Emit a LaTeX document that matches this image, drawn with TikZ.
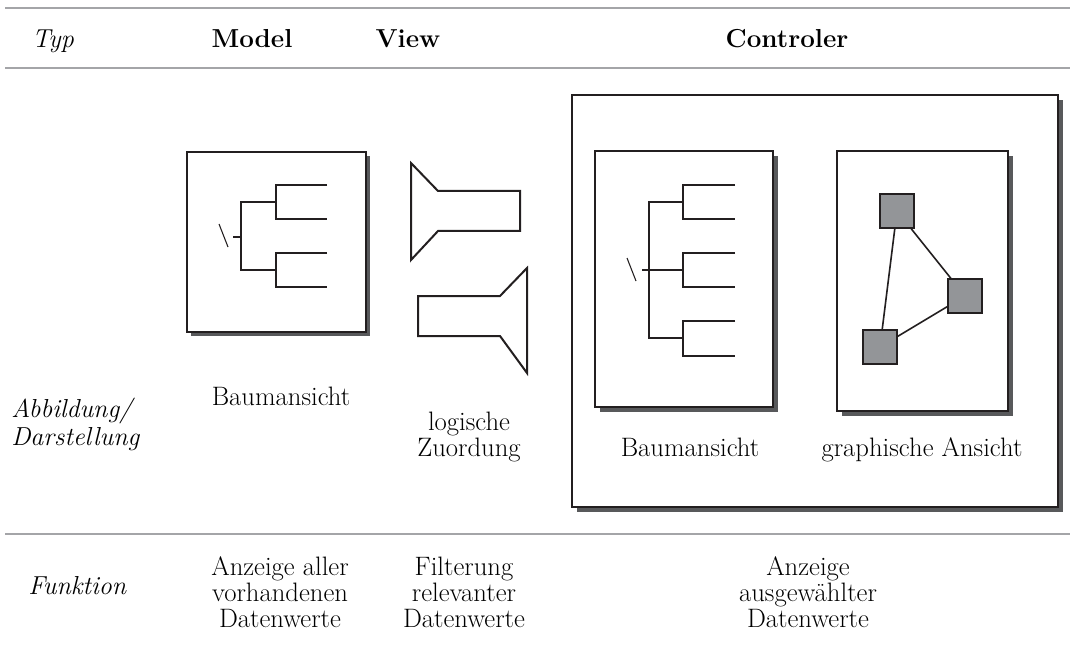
\documentclass[tikz,border=0pt]{standalone}
\usetikzlibrary{calc}
\definecolor{ink}{HTML}{231F20}
\definecolor{shade}{HTML}{58595B}
\definecolor{rulegray}{HTML}{A4A5A8}
\definecolor{sqfill}{HTML}{939598}
\begin{document}
\begin{tikzpicture}[x=0.75pt,y=-0.75pt,
  rulel/.style={rulegray,line width=2.2pt},
  frame/.style={draw=ink,fill=white,line width=1.5pt},
  shadowfill/.style={fill=shade},
  treeline/.style={ink,line width=1.4pt},
  stub/.style={ink,line width=2.2pt},
  slash/.style={ink,line width=0.8pt},
  viewshape/.style={draw=ink,line width=1.5pt,line join=miter},
  sq/.style={draw=ink,fill=sqfill,line width=1.5pt,minimum size=25pt,inner sep=0pt},
  edge/.style={ink,line width=1.2pt},
  txt/.style={font=\fontsize{20}{19.5}\selectfont,inner sep=0pt,align=center},
  head/.style={font=\fontsize{19.5}{21}\selectfont\bfseries,inner sep=0pt},
  ital/.style={font=\fontsize{19.5}{21}\selectfont\itshape,inner sep=0pt,align=left}
]
\useasboundingbox (0,0) rectangle (1070,645);

% rules
\draw[rulel] (5,8) -- (1070,8);
\draw[rulel] (5,68) -- (1070,68);
\draw[rulel] (5,534) -- (1070,534);

% header
\node[ital,anchor=base] (typ) at (53,48) {Typ};
\node[head,anchor=base] (model) at (252,48) {Model};
\node[head,anchor=base] (view) at (408,48) {View};
\node[head,anchor=base] (ctrl) at (787,48) {Controler};

% row labels
\node[ital,anchor=base west] (abb) at (11,445) {Abbildung/\\Darstellung};
\node[ital,anchor=base west] (fkt) at (28,594) {Funktion};

% Model box
\fill[shadowfill] (191,156) rectangle (370,336);
\draw[frame] (187,152) rectangle (366,332);
\draw[stub] (233,237) -- (242,237);
\draw[treeline] (276,202) -- (241,202) -- (241,270) -- (276,270);
\draw[treeline] (327,185) -- (276,185) -- (276,219) -- (327,219);
\draw[treeline] (327,253) -- (276,253) -- (276,287) -- (327,287);
\draw[slash] (219,224) -- (228,247);
\node[txt,anchor=base] (mlabel) at (281,405) {Baumansicht};

% View shapes
\draw[viewshape] (411,163) -- (438,191) -- (520,191) -- (520,231) -- (438,231) -- (411,260) -- cycle;
\draw[viewshape] (527,268) -- (500,296) -- (418,296) -- (418,336) -- (500,336) -- (527,373) -- cycle;
\node[txt,anchor=base] (vlabel) at (469,456) {logische\\Zuordung};

% Controller outer box
\fill[shadowfill] (577,100) rectangle (1063,512);
\draw[frame] (572,95) rectangle (1058,507);

% Controller tree box
\fill[shadowfill] (600,156) rectangle (778,412);
\draw[frame] (595,151) rectangle (773,407);
\draw[stub] (642,270) -- (650,270);
\draw[treeline] (683,202) -- (649,202) -- (649,338) -- (683,338);
\draw[treeline] (649,270) -- (683,270);
\draw[treeline] (735,185) -- (683,185) -- (683,219) -- (735,219);
\draw[treeline] (735,253) -- (683,253) -- (683,287) -- (735,287);
\draw[treeline] (735,321) -- (683,321) -- (683,356) -- (735,356);
\draw[slash] (627,258) -- (636,281);

% Controller graph box
\fill[shadowfill] (842,156) rectangle (1013,416);
\draw[frame] (837,151) rectangle (1008,411);
\node[sq] (g1) at (897,211) {};
\node[sq] (g2) at (965,296) {};
\node[sq] (g3) at (880,347) {};
\draw[edge] (g1) -- (g3);
\draw[edge] (g1) -- (g2);
\draw[edge] (g3) -- (g2);

\node[txt,anchor=base] (clabel1) at (690,456) {Baumansicht};
\node[txt,anchor=base] (clabel2) at (922,456) {graphische Ansicht};

% Funktion row
\node[txt,anchor=base] (f1) at (280,627) {Anzeige aller\\vorhandenen\\Datenwerte};
\node[txt,anchor=base] (f2) at (464,627) {Filterung\\relevanter\\Datenwerte};
\node[txt,anchor=base] (f3) at (808,627) {Anzeige\\ausgewählter\\Datenwerte};
\end{tikzpicture}
\end{document}
